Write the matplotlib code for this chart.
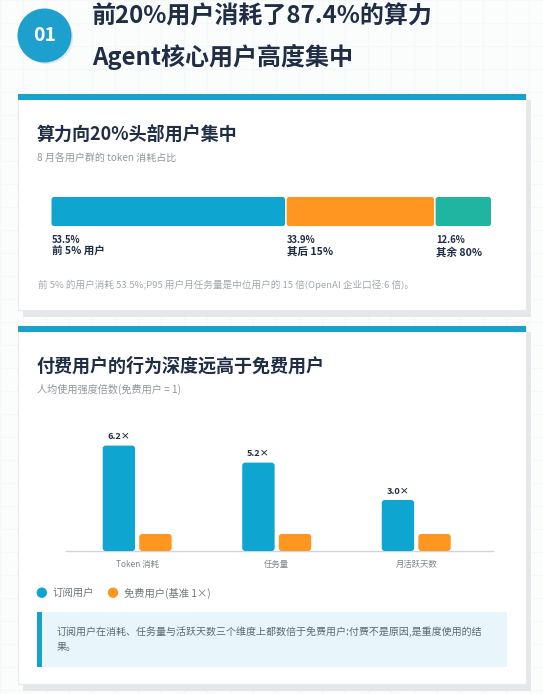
import matplotlib
matplotlib.use("Agg")
import matplotlib.pyplot as plt
from matplotlib.patches import Circle, FancyBboxPatch, Rectangle

plt.rcParams['font.family'] = ['Noto Sans CJK SC', 'DejaVu Sans']

W, H = 543, 694
BLUE = '#0ea5d0'
ORANGE = '#ff9620'
TEAL = '#1fb5a0'
NAVY = '#1f2d45'
GRAY = '#8f969f'
CARD_TOP = '#16a3cb'

# data
share_values = [53.5, 33.9, 12.6]
share_labels = ['前 5% 用户', '其后 15%', '其余 80%']
share_colors = [BLUE, ORANGE, TEAL]

categories = ['Token 消耗', '任务量', '月活跃天数']
paid_values = [6.2, 5.2, 3.0]
free_values = [1.0, 1.0, 1.0]


def px_axes(fig, x0, y0, x1, y1):
    # axes from pixel box, y measured from the top of the picture
    ax = fig.add_axes([x0 / W, 1 - y1 / H, (x1 - x0) / W, (y1 - y0) / H])
    ax.patch.set_alpha(0)
    return ax


def rounded_bar(ax, x, y, w, h, color, radius, box_px):
    # radius in pixels, box_px is the axes size in pixels
    xl = ax.get_xlim()
    yl = ax.get_ylim()
    sx = (xl[1] - xl[0]) / box_px[0]
    sy = (yl[1] - yl[0]) / box_px[1]
    r = radius * sx
    p = FancyBboxPatch((x + r, y + radius * sy), w - 2 * r, h - 2 * radius * sy,
                       boxstyle=f'round,pad={r},rounding_size={r}',
                       mutation_aspect=sy / sx,
                       fc=color, ec='none', zorder=3, clip_on=False)
    ax.add_patch(p)


def card(bg, top, bottom):
    bg.add_patch(Rectangle((23, top + 6), 508, bottom - top + 1, fc='#e4e8eb', ec='none', zorder=1))
    bg.add_patch(Rectangle((18, top), 508, bottom - top, fc='white', ec='#e6eaed', lw=0.8, zorder=2))
    bg.add_patch(Rectangle((18, top), 508, 6, fc=CARD_TOP, ec='none', zorder=3))


fig = plt.figure(figsize=(W / 100, H / 100), dpi=100, facecolor='#fbfdfd')

# page background in pixel coordinates
bg = px_axes(fig, 0, 0, W, H)
bg.set_xlim(0, W)
bg.set_ylim(H, 0)
bg.axis('off')
for gx in range(0, W, 23):
    bg.axvline(gx, color='#f3f8f9', lw=0.8, zorder=0)
for gy in range(0, H, 23):
    bg.axhline(gy, color='#f3f8f9', lw=0.8, zorder=0)

# header
bg.add_patch(Circle((46, 37), 27, fc='#dfe6e9', ec='none', zorder=1))
bg.add_patch(Circle((44.5, 35.5), 27, fc='#1da0cd', ec='none', zorder=2))
bg.text(44.5, 35.5, '01', color='white', fontsize=14, fontweight='bold', ha='center', va='center', zorder=3)
bg.text(92, 17, '前20%用户消耗了87.4%的算力', color=NAVY, fontsize=17.3, fontweight='bold', va='center')
bg.text(92, 57, 'Agent核心用户高度集中', color=NAVY, fontsize=17.3, fontweight='bold', va='center')

# cards
card(bg, 94, 309.5)
card(bg, 326, 684)

bg.text(37, 134, '算力向20%头部用户集中', color=NAVY, fontsize=13, fontweight='bold', va='center')
bg.text(37, 158.5, '8 月各用户群的 token 消耗占比', color=GRAY, fontsize=7.2, va='center')
bg.text(38, 284.5, '前 5% 的用户消耗 53.5%;P95 用户月任务量是中位用户的 15 倍(OpenAI 企业口径:6 倍)。',
        color='#a2a8b0', fontsize=6.9, va='center')

bg.text(37, 366, '付费用户的行为深度远高于免费用户', color=NAVY, fontsize=13, fontweight='bold', va='center')
bg.text(37, 389, '人均使用强度倍数(免费用户 = 1)', color=GRAY, fontsize=7.3, va='center')

# share bar
share_box = (439.5, 29)
ax1 = px_axes(fig, 51.5, 197, 491, 226)
ax1.set_xlim(0, 100)
ax1.set_ylim(0, 1)
ax1.axis('off')
left = 0
for i, (val, name, col) in enumerate(zip(share_values, share_labels, share_colors)):
    gap = 0.35 if i < len(share_values) - 1 else 0
    rounded_bar(ax1, left, 0, val - gap, 1, col, 2.5, share_box)
    ax1.annotate(f'{val}%', (left, 0), xytext=(0.5, -14), textcoords='offset pixels',
                 color=NAVY, fontsize=6.8, fontweight='bold', va='center')
    ax1.annotate(name, (left, 0), xytext=(0.5, -26), textcoords='offset pixels',
                 color=NAVY, fontsize=7.6, fontweight='bold', va='center')
    left += val

# grouped columns
col_box = (427, 140)
ax2 = px_axes(fig, 66, 411, 493, 551)
ax2.set_xlim(-0.51, 2.55)
ax2.set_ylim(0, 140 / 17.0)
for s in ['top', 'left', 'right']:
    ax2.spines[s].set_visible(False)
ax2.spines['bottom'].set_color('#cfd5da')
ax2.spines['bottom'].set_linewidth(1)
ax2.set_yticks([])
ax2.set_xticks(range(len(categories)), categories)
ax2.tick_params(axis='x', length=0, pad=10, labelsize=6, labelcolor='#7d858e')
for lab in ax2.get_xticklabels():
    lab.set_verticalalignment('center')
bar_w = 0.232
for i, (paid, free) in enumerate(zip(paid_values, free_values)):
    rounded_bar(ax2, i - 0.247, 0, bar_w, paid, BLUE, 3, col_box)
    rounded_bar(ax2, i + 0.015, 0, bar_w, free, ORANGE, 3, col_box)
    ax2.text(i - 0.131, paid + 0.52, f'{paid:.1f}×', color=NAVY, fontsize=6.6,
             fontweight='bold', ha='center', va='center')

# legend
bg.add_patch(Circle((41.8, 592.7), 5.2, fc=BLUE, ec='none', zorder=3))
bg.text(52.5, 593, '订阅用户', color='#6f7780', fontsize=7.5, va='center', zorder=3)
bg.add_patch(Circle((113, 592.7), 5.2, fc=ORANGE, ec='none', zorder=3))
bg.text(124, 593, '免费用户(基准 1×)', color='#6f7780', fontsize=7.4, va='center', zorder=3)

# note box
bg.add_patch(Rectangle((37, 612), 469.5, 55, fc='#e8f5fb', ec='none', zorder=3))
bg.add_patch(Rectangle((37, 612), 4.8, 55, fc=CARD_TOP, ec='none', zorder=4))
bg.text(56.4, 632, '订阅用户在消耗、任务量与活跃天数三个维度上都数倍于免费用户:付费不是原因,是重度使用的结',
        color='#5f6873', fontsize=7.2, va='center', zorder=5)
bg.text(56.4, 647, '果。', color='#5f6873', fontsize=7.2, va='center', zorder=5)

fig.savefig('out.png', dpi=100)
